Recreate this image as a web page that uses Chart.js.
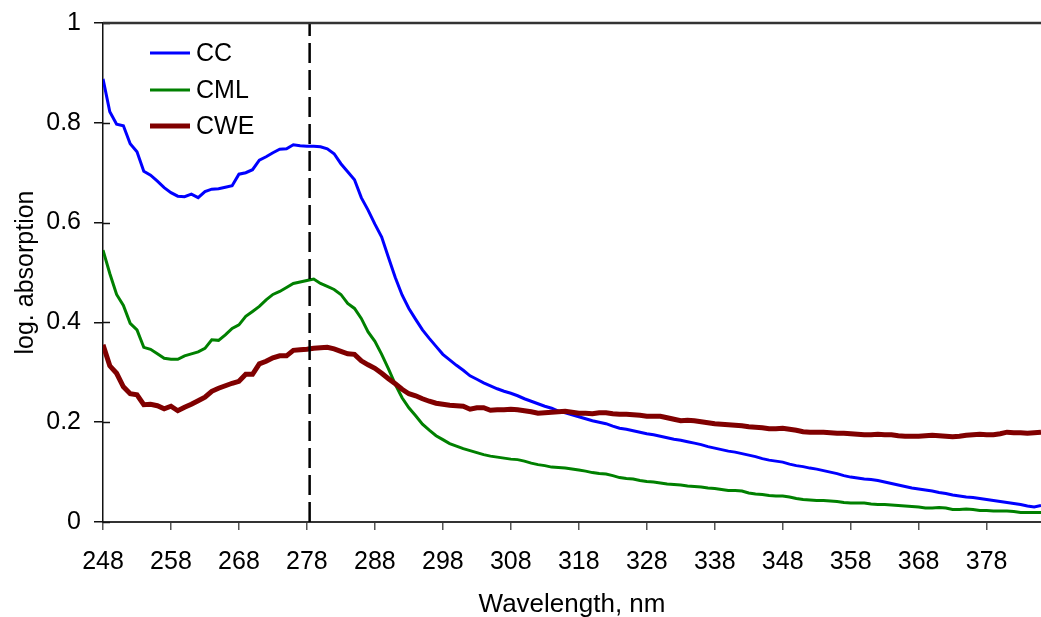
<!DOCTYPE html>
<html>
<head>
<meta charset="utf-8">
<script src="https://cdn.jsdelivr.net/npm/chart.js@4/dist/chart.umd.min.js"></script>
<style>
  html, body { margin: 0; padding: 0; background: #fff; }
  #wrap { width: 1041px; height: 617px; }
</style>
</head>
<body>
<div id="wrap"><canvas id="chart" width="1041" height="617"></canvas></div>
<script>
// Wavelength grid, nm (one reading per nm)
const wavelengths = [];
for (let w = 248; w <= 386; w++) wavelengths.push(w);

const xTicks = [248, 258, 268, 278, 288, 298, 308, 318, 328, 338, 348, 358, 368, 378];
const yTicks = [0, 0.2, 0.4, 0.6, 0.8, 1];

// wavelength of the dashed marker line
const markerWavelength = 278.4;

// log. absorption, 248..386 nm
const ccValues = [
  0.888, 0.822, 0.797, 0.794, 0.758, 0.742, 0.703, 0.695, 0.683, 0.670,
  0.660, 0.653, 0.652, 0.657, 0.650, 0.662, 0.667, 0.668, 0.671, 0.674,
  0.697, 0.700, 0.706, 0.725, 0.732, 0.740, 0.747, 0.748, 0.756, 0.754,
  0.753, 0.753, 0.752, 0.748, 0.738, 0.718, 0.702, 0.686, 0.650, 0.625,
  0.597, 0.571, 0.530, 0.490, 0.455, 0.428, 0.406, 0.385, 0.368, 0.352,
  0.336, 0.325, 0.314, 0.304, 0.293, 0.286, 0.279, 0.273, 0.267, 0.262,
  0.258, 0.253, 0.247, 0.242, 0.237, 0.232, 0.228, 0.222, 0.219, 0.215,
  0.211, 0.207, 0.203, 0.200, 0.197, 0.192, 0.188, 0.186, 0.183, 0.180,
  0.177, 0.175, 0.172, 0.169, 0.166, 0.164, 0.161, 0.158, 0.155, 0.151,
  0.148, 0.145, 0.142, 0.140, 0.137, 0.134, 0.131, 0.127, 0.124, 0.122,
  0.120, 0.116, 0.113, 0.111, 0.108, 0.106, 0.103, 0.100, 0.097, 0.093,
  0.090, 0.088, 0.086, 0.085, 0.083, 0.080, 0.077, 0.074, 0.071, 0.068,
  0.066, 0.064, 0.062, 0.059, 0.057, 0.054, 0.052, 0.050, 0.049, 0.047,
  0.045, 0.043, 0.041, 0.039, 0.037, 0.035, 0.032, 0.030, 0.033
];

const cmlValues = [
  0.545, 0.498, 0.456, 0.434, 0.398, 0.385, 0.350, 0.346, 0.337, 0.328,
  0.326, 0.326, 0.333, 0.337, 0.341, 0.348, 0.365, 0.364, 0.375, 0.388,
  0.395, 0.412, 0.422, 0.432, 0.445, 0.456, 0.462, 0.470, 0.478, 0.481,
  0.484, 0.487, 0.478, 0.472, 0.466, 0.456, 0.438, 0.428, 0.408, 0.381,
  0.362, 0.336, 0.307, 0.276, 0.249, 0.229, 0.213, 0.196, 0.184, 0.173,
  0.165, 0.157, 0.152, 0.147, 0.143, 0.139, 0.135, 0.132, 0.130, 0.128,
  0.126, 0.125, 0.122, 0.118, 0.115, 0.113, 0.110, 0.109, 0.108, 0.106,
  0.104, 0.102, 0.099, 0.097, 0.096, 0.093, 0.089, 0.087, 0.086, 0.083,
  0.081, 0.080, 0.078, 0.076, 0.075, 0.074, 0.072, 0.071, 0.070, 0.068,
  0.067, 0.065, 0.063, 0.063, 0.062, 0.058, 0.056, 0.055, 0.053, 0.052,
  0.052, 0.050, 0.047, 0.045, 0.044, 0.043, 0.043, 0.042, 0.041, 0.039,
  0.038, 0.038, 0.038, 0.036, 0.035, 0.035, 0.034, 0.033, 0.032, 0.031,
  0.030, 0.028, 0.028, 0.029, 0.028, 0.025, 0.025, 0.026, 0.025, 0.023,
  0.023, 0.022, 0.022, 0.022, 0.021, 0.019, 0.019, 0.019, 0.019
];

const cweValues = [
  0.355, 0.313, 0.298, 0.271, 0.257, 0.255, 0.235, 0.236, 0.233, 0.227,
  0.232, 0.223, 0.230, 0.236, 0.243, 0.250, 0.262, 0.268, 0.273, 0.278,
  0.282, 0.296, 0.296, 0.317, 0.322, 0.329, 0.333, 0.333, 0.344, 0.345,
  0.346, 0.348, 0.349, 0.350, 0.347, 0.342, 0.337, 0.336, 0.323, 0.315,
  0.308, 0.298, 0.287, 0.277, 0.266, 0.257, 0.253, 0.247, 0.242, 0.238,
  0.236, 0.234, 0.233, 0.232, 0.226, 0.229, 0.229, 0.224, 0.225, 0.225,
  0.226, 0.225, 0.223, 0.221, 0.218, 0.219, 0.220, 0.221, 0.222, 0.220,
  0.218, 0.218, 0.217, 0.219, 0.219, 0.217, 0.216, 0.216, 0.215, 0.214,
  0.212, 0.212, 0.212, 0.209, 0.206, 0.203, 0.204, 0.203, 0.201, 0.199,
  0.197, 0.196, 0.195, 0.194, 0.193, 0.191, 0.190, 0.189, 0.187, 0.187,
  0.188, 0.186, 0.184, 0.181, 0.180, 0.180, 0.180, 0.179, 0.178, 0.178,
  0.177, 0.176, 0.175, 0.175, 0.176, 0.175, 0.175, 0.173, 0.172, 0.172,
  0.172, 0.173, 0.174, 0.173, 0.172, 0.171, 0.172, 0.174, 0.175, 0.176,
  0.175, 0.175, 0.177, 0.180, 0.179, 0.179, 0.178, 0.179, 0.180
];

const seriesNames = ['CC', 'CML', 'CWE'];
const seriesColors = ['#0000ff', '#008000', '#800000'];
const seriesWidths = [3, 3, 5];

const font = { family: '"Liberation Sans", Arial, sans-serif', size: 25 };

function toPoints(values) {
  return values.map((v, i) => ({ x: wavelengths[i], y: v }));
}

// inner y tick stubs, top frame line and the legend inside the plot
const framePlugin = {
  id: 'frame',
  afterDraw(chart) {
    const ctx = chart.ctx;
    const area = chart.chartArea;
    const y = chart.scales.y;
    ctx.save();
    ctx.strokeStyle = '#111';
    ctx.lineWidth = 1.5;
    yTicks.forEach(v => {
      const py = Math.round(y.getPixelForValue(v)) + 0.5;
      ctx.beginPath();
      ctx.moveTo(area.left, py);
      ctx.lineTo(area.left + 7, py);
      ctx.stroke();
    });
    ctx.strokeStyle = '#333';
    ctx.lineWidth = 2.5;
    ctx.beginPath();
    ctx.moveTo(area.left, area.top);
    ctx.lineTo(area.right, area.top);
    ctx.stroke();

    // legend
    const rows = [53, 90, 126];
    ctx.font = font.size + 'px ' + font.family;
    ctx.textBaseline = 'middle';
    ctx.textAlign = 'left';
    seriesNames.forEach((name, i) => {
      ctx.strokeStyle = seriesColors[i];
      ctx.lineWidth = seriesWidths[i];
      ctx.beginPath();
      ctx.moveTo(150, rows[i]);
      ctx.lineTo(190, rows[i]);
      ctx.stroke();
      ctx.fillStyle = '#000';
      ctx.fillText(name, 196, rows[i] + 1);
    });
    ctx.restore();
  }
};

const datasets = seriesNames.map((name, i) => ({
  label: name,
  data: toPoints([ccValues, cmlValues, cweValues][i]),
  borderColor: seriesColors[i],
  borderWidth: seriesWidths[i],
  pointRadius: 0,
  tension: 0,
  order: 3 - i
}));

datasets.push({
  label: 'marker',
  data: [{ x: markerWavelength, y: 0 }, { x: markerWavelength, y: 1 }],
  borderColor: '#000',
  borderWidth: 2.5,
  borderDash: [20, 7],
  pointRadius: 0,
  order: 0
});

new Chart(document.getElementById('chart'), {
  type: 'line',
  data: { datasets: datasets },
  options: {
    responsive: false,
    animation: false,
    layout: { padding: { top: 23, right: 0, left: 0, bottom: 0 } },
    plugins: {
      legend: { display: false },
      tooltip: { enabled: false }
    },
    scales: {
      x: {
        type: 'linear',
        min: 248,
        max: 386,
        afterBuildTicks: scale => { scale.ticks = xTicks.map(v => ({ value: v })); },
        afterFit: scale => {
          scale.height = 95;
          scale.paddingLeft = 0;
          scale.paddingRight = 0;
        },
        ticks: {
          font: font,
          color: '#000',
          padding: 17,
          maxRotation: 0,
          autoSkip: false,
          callback: v => String(v)
        },
        grid: {
          drawOnChartArea: false,
          tickLength: 8,
          color: '#555',
          lineWidth: 1.5
        },
        border: { color: '#333', width: 2 },
        title: {
          display: true,
          text: 'Wavelength, nm',
          font: { family: font.family, size: 26 },
          color: '#000',
          padding: { top: 0, bottom: -3 }
        }
      },
      y: {
        min: 0,
        max: 1,
        afterBuildTicks: scale => { scale.ticks = yTicks.map(v => ({ value: v })); },
        afterFit: scale => {
          scale.width = 103;
          scale.paddingTop = 0;
          scale.paddingBottom = 0;
        },
        ticks: {
          font: font,
          color: '#000',
          padding: 13,
          callback: v => String(v)
        },
        grid: {
          drawOnChartArea: false,
          tickLength: 9,
          color: '#111',
          lineWidth: 1.5
        },
        border: { color: '#111', width: 1.5 },
        title: {
          display: true,
          text: 'log. absorption',
          font: font,
          color: '#000',
          padding: { top: 11, bottom: 0 }
        }
      }
    }
  },
  plugins: [framePlugin]
});
</script>
</body>
</html>
